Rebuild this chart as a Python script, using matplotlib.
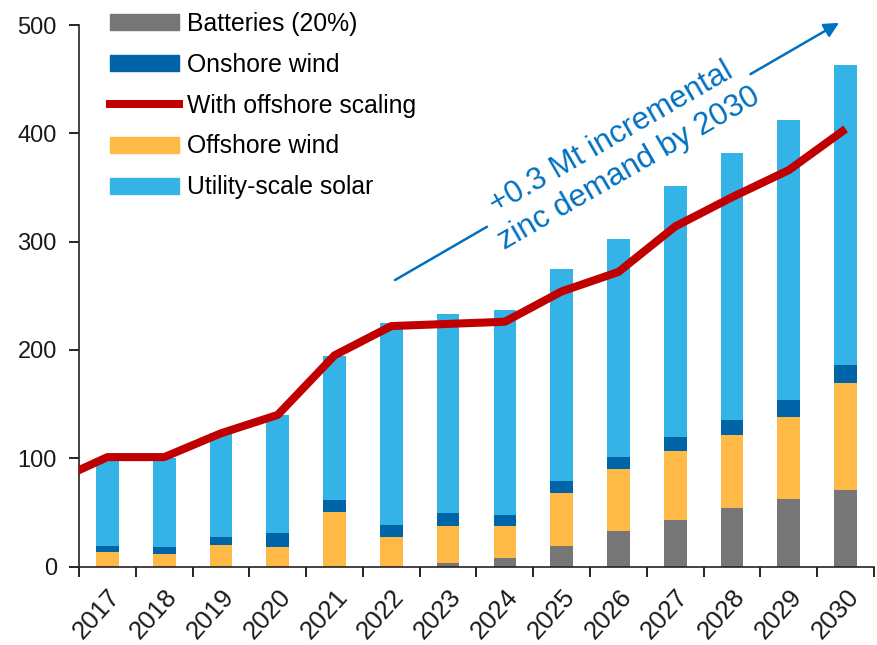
import matplotlib
matplotlib.use('Agg')
import matplotlib.pyplot as plt
from matplotlib.patches import Patch
from matplotlib.lines import Line2D
import numpy as np

plt.rcParams['font.family'] = ['Liberation Sans', 'DejaVu Sans']

years = ['2017', '2018', '2019', '2020', '2021', '2022', '2023',
         '2024', '2025', '2026', '2027', '2028', '2029', '2030']
batteries = [0, 0, 0, 0, 0, 0, 3, 8, 19, 33, 43, 54, 62, 71]
offshore = [13, 12, 20, 18, 50, 27, 34, 29, 49, 57, 64, 67, 76, 98]
onshore = [6, 6, 7, 13, 11, 11, 12, 11, 11, 11, 13, 14, 16, 17]
solar = [79, 82, 96, 109, 133, 187, 184, 189, 196, 201, 231, 247, 258, 277]
# offshore-scaling total; the 2016 value only shows as the line's lead-in
scaling_2016 = 77
scaling = [101, 101, 123, 140, 195, 222, 224, 226, 254, 272, 314, 341, 366, 404]

C_BAT = '#767676'
C_ON = '#0065A8'
C_OFF = '#FFB946'
C_SOLAR = '#33B3E6'
C_LINE = '#C00000'
C_NOTE = '#0070C0'

fig = plt.figure(figsize=(8.78, 6.45), dpi=100)
ax = fig.add_axes([79/878, 1 - 566.5/645, 795/878, 541.5/645])

x = np.arange(len(years))
w = 0.4
bottom = np.zeros(len(years))
for vals, col in [(batteries, C_BAT), (offshore, C_OFF), (onshore, C_ON), (solar, C_SOLAR)]:
    ax.bar(x, vals, w, bottom=bottom, color=col, zorder=2)
    bottom += np.array(vals)

lx = np.arange(-1, len(years))
ax.plot(lx, [scaling_2016] + scaling, color=C_LINE, lw=5.8, zorder=3,
        solid_joinstyle='round', solid_capstyle='butt')

ax.set_xlim(-0.5, len(years) - 0.5)
ax.set_ylim(0, 500)
ax.set_yticks(range(0, 501, 100))
ax.set_xticks(x)
ax.set_xticklabels(years, rotation=48, ha='right', rotation_mode='anchor')
ax.set_xticks(np.arange(-0.5, len(years)), minor=True)
ax.tick_params(axis='x', which='major', length=0, pad=13, labelsize=18.5, labelcolor='#1a1a1a')
ax.tick_params(axis='x', which='minor', length=7, width=1.2, direction='out')
ax.tick_params(axis='y', length=7, width=1.2, pad=9, labelsize=17, labelcolor='#1a1a1a')
for s in ['top', 'right']:
    ax.spines[s].set_visible(False)
for s in ['left', 'bottom']:
    ax.spines[s].set_linewidth(1.2)
    ax.spines[s].set_color('#222222')

handles = [Patch(color=C_BAT), Patch(color=C_ON),
           Line2D([], [], color=C_LINE, lw=5.8),
           Patch(color=C_OFF), Patch(color=C_SOLAR)]
labels = ['Batteries (20%)', 'Onshore wind', 'With offshore scaling',
          'Offshore wind', 'Utility-scale solar']
fig.legend(handles, labels, loc='upper left', bbox_to_anchor=(110/878, 1 - 12/645),
           frameon=False, fontsize=17.8, borderpad=0, borderaxespad=0,
           handlelength=2.8, handleheight=0.62, handletextpad=0.3,
           labelspacing=0.68)

# trend arrow with the note sitting on it
ax.annotate('', xy=(0.956, 1.004), xytext=(0.3975, 0.529),
            xycoords='axes fraction', textcoords='axes fraction',
            annotation_clip=False, zorder=4,
            arrowprops=dict(arrowstyle='-|>', color=C_NOTE, lw=1.8,
                            mutation_scale=22, shrinkA=0, shrinkB=0))
ax.text(0.681, 0.763, '+0.3 Mt incremental\nzinc demand by 2030',
        transform=ax.transAxes, rotation=30, rotation_mode='anchor',
        ha='center', va='center', fontsize=22.5, color=C_NOTE,
        linespacing=1.25, zorder=5,
        bbox=dict(facecolor='white', edgecolor='none', pad=2))

fig.savefig('out.png', dpi=100)
